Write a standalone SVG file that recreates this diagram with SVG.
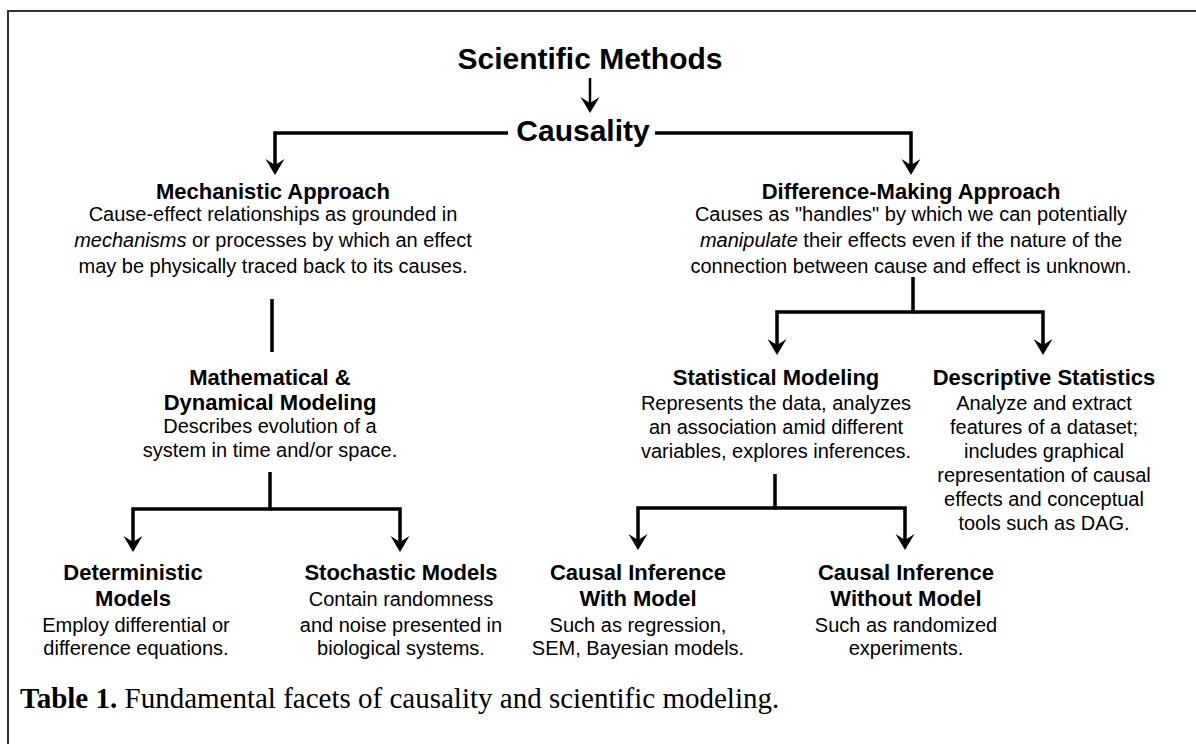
<svg xmlns="http://www.w3.org/2000/svg" width="1196" height="744" viewBox="0 0 1196 744">
<style>
.t{font-family:"Liberation Sans",Arial,sans-serif;font-weight:bold;font-size:30px;text-anchor:middle;fill:#000}
.h{font-family:"Liberation Sans",Arial,sans-serif;font-weight:bold;font-size:22px;text-anchor:middle;fill:#000}
.b{font-family:"Liberation Sans",Arial,sans-serif;font-size:20px;text-anchor:middle;fill:#000}
.i{font-style:italic}
.cap{font-family:"Liberation Serif","Times New Roman",serif;font-size:29px;fill:#000}
.ln{stroke:#000;stroke-width:3.5;fill:none;stroke-linejoin:miter}
.ar{marker-end:url(#ah)}
</style>
<defs>
<marker id="ah" markerUnits="userSpaceOnUse" markerWidth="20" markerHeight="22" viewBox="0 -11 18 22" refX="9" refY="0" orient="auto">
<path d="M16,0 L0,-9.5 L6,0 L0,9.5 Z" fill="#000"/>
</marker>
</defs>
<rect width="1196" height="744" fill="#fff"/>
<path d="M8,744 V11 H1196" stroke="#333" stroke-width="2" fill="none"/>

<g id="connectors">
<path class="ln ar" d="M590,78 V106" style="stroke-width:2.5"/>
<path class="ln ar" d="M508,133 H275 V168"/>
<path class="ln ar" d="M655,133 H911 V168"/>
<path class="ln" d="M272,299 V352"/>
<path class="ln ar" d="M270,472 V509 H133 V545"/>
<path class="ln ar" d="M270,509 H400 V545"/>
<path class="ln ar" d="M913,277 V312 H777 V348"/>
<path class="ln ar" d="M913,312 H1043 V348"/>
<path class="ln ar" d="M775,474 V508 H638 V543"/>
<path class="ln ar" d="M775,508 H905 V543"/>
</g>

<g id="n-scientific"><text class="t" x="590" y="69">Scientific Methods</text></g>
<g id="n-causality"><text class="t" x="583" y="141">Causality</text></g>

<g id="n-mechanistic">
<text class="h" x="273" y="199">Mechanistic Approach</text>
<text class="b" x="273" y="221">Cause-effect relationships as grounded in</text>
<text class="b" x="273" y="247"><tspan class="i">mechanisms</tspan> or processes by which an effect</text>
<text class="b" x="273" y="273">may be physically traced back to its causes.</text>
</g>

<g id="n-difference">
<text class="h" x="911" y="199">Difference-Making Approach</text>
<text class="b" x="911" y="221">Causes as "handles" by which we can potentially</text>
<text class="b" x="911" y="247"><tspan class="i">manipulate</tspan> their effects even if the nature of the</text>
<text class="b" x="911" y="273">connection between cause and effect is unknown.</text>
</g>

<g id="n-mathematical">
<text class="h" x="270" y="385">Mathematical &amp;</text>
<text class="h" x="270" y="410">Dynamical Modeling</text>
<text class="b" x="270" y="433">Describes evolution of a</text>
<text class="b" x="270" y="457">system in time and/or space.</text>
</g>

<g id="n-statistical">
<text class="h" x="776" y="385">Statistical Modeling</text>
<text class="b" x="776" y="410">Represents the data, analyzes</text>
<text class="b" x="776" y="434">an association amid different</text>
<text class="b" x="776" y="458">variables, explores inferences.</text>
</g>

<g id="n-descriptive">
<text class="h" x="1044" y="385">Descriptive Statistics</text>
<text class="b" x="1044" y="410">Analyze and extract</text>
<text class="b" x="1044" y="434">features of a dataset;</text>
<text class="b" x="1044" y="458">includes graphical</text>
<text class="b" x="1044" y="482">representation of causal</text>
<text class="b" x="1044" y="506">effects and conceptual</text>
<text class="b" x="1044" y="530">tools such as DAG.</text>
</g>

<g id="n-deterministic">
<text class="h" x="133" y="580">Deterministic</text>
<text class="h" x="133" y="606">Models</text>
<text class="b" x="136" y="632">Employ differential or</text>
<text class="b" x="136" y="655">difference equations.</text>
</g>

<g id="n-stochastic">
<text class="h" x="401" y="580">Stochastic Models</text>
<text class="b" x="401" y="606">Contain randomness</text>
<text class="b" x="401" y="632">and noise presented in</text>
<text class="b" x="401" y="655">biological systems.</text>
</g>

<g id="n-withmodel">
<text class="h" x="638" y="580">Causal Inference</text>
<text class="h" x="638" y="606">With Model</text>
<text class="b" x="638" y="632">Such as regression,</text>
<text class="b" x="638" y="655">SEM, Bayesian models.</text>
</g>

<g id="n-withoutmodel">
<text class="h" x="906" y="580">Causal Inference</text>
<text class="h" x="906" y="606">Without Model</text>
<text class="b" x="906" y="632">Such as randomized</text>
<text class="b" x="906" y="655">experiments.</text>
</g>

<g id="caption">
<text class="cap" x="20" y="708"><tspan font-weight="bold">Table 1.</tspan> Fundamental facets of causality and scientific modeling.</text>
</g>
</svg>
